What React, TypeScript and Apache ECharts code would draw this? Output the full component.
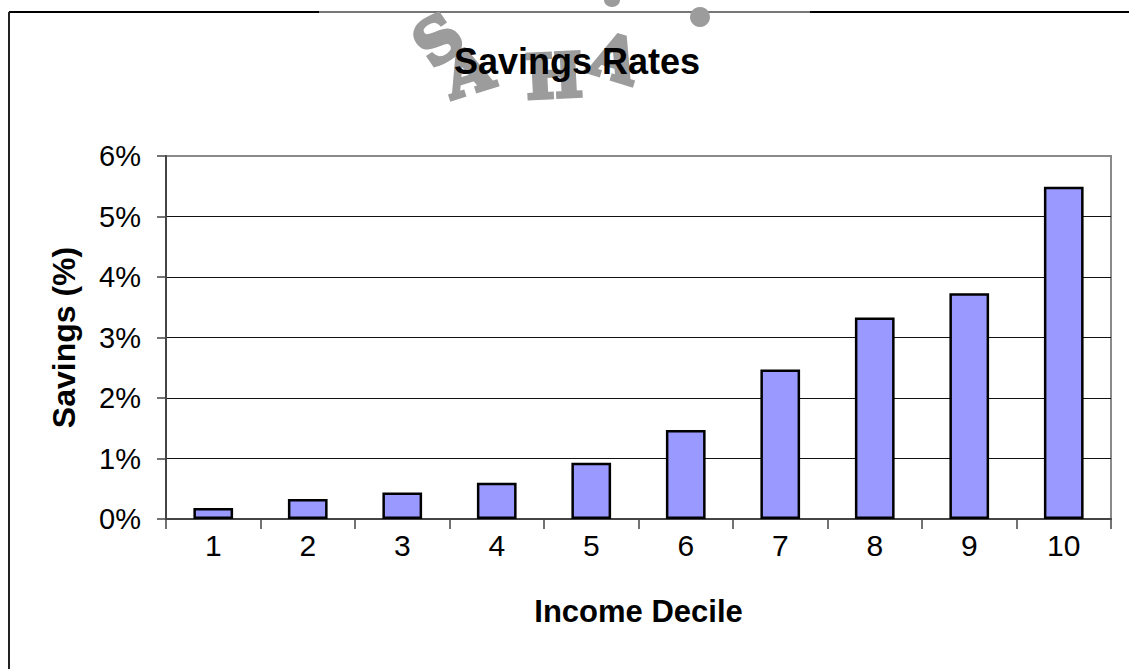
import { useEffect, useRef } from 'react';
import * as echarts from 'echarts';

const categories = ['1', '2', '3', '4', '5', '6', '7', '8', '9', '10'];
const savingsRates = [0.18, 0.33, 0.44, 0.6, 0.93, 1.47, 2.47, 3.33, 3.73, 5.49];
const yMin = 0;
const yMax = 6;
const yStep = 1;
const titleText = 'Savings Rates';
const xName = 'Income Decile';
const yName = 'Savings (%)';
const watermarkLetters = ['S', 'A', 'H', 'A'];

const FONT = 'Arial, "Liberation Sans", sans-serif';

export default function App() {
  const ref = useRef<HTMLDivElement>(null);
  useEffect(() => {
    const chart = echarts.init(ref.current!, null, { renderer: 'svg' });
    const wmPos = [
      { x: 438, y: 40, r: 0.6 },
      { x: 468, y: 72, r: 0.3 },
      { x: 554, y: 76, r: 0.05 },
      { x: 615, y: 58, r: -0.3 },
    ];
    chart.setOption({
      animation: false,
      backgroundColor: '#fff',
      title: {
        text: titleText,
        left: 572,
        top: 38,
        textAlign: 'center',
        z: 10,
        textStyle: { fontFamily: FONT, fontSize: 36, fontWeight: 'bold', color: '#000' },
      },
      grid: {
        left: 166,
        right: 18,
        top: 156,
        bottom: 150,
        show: true,
        borderColor: '#8a8a8a',
        borderWidth: 2,
        backgroundColor: 'transparent',
        containLabel: false,
        outerBoundsMode: 'none',
      },
      xAxis: {
        type: 'category',
        data: categories,
        boundaryGap: true,
        name: xName,
        nameLocation: 'middle',
        nameGap: 77,
        nameTextStyle: { fontFamily: FONT, fontSize: 31, fontWeight: 'bold', color: '#000' },
        axisLine: { show: true, lineStyle: { color: '#444', width: 2 } },
        axisTick: { show: true, length: 10, lineStyle: { color: '#444', width: 1.5 } },
        axisLabel: { fontFamily: FONT, fontSize: 30, color: '#000', margin: 11 },
        splitLine: { show: false },
      },
      yAxis: {
        type: 'value',
        min: yMin,
        max: yMax,
        interval: yStep,
        name: yName,
        nameLocation: 'middle',
        nameGap: 86,
        nameTextStyle: { fontFamily: FONT, fontSize: 32, fontWeight: 'bold', color: '#000' },
        axisLine: { show: true, lineStyle: { color: '#444', width: 2 } },
        axisTick: { show: true, length: 9, lineStyle: { color: '#444', width: 1.5 } },
        axisLabel: { fontFamily: FONT, fontSize: 29, color: '#000', margin: 25, formatter: '{value}%' },
        splitLine: {
          show: true,
          lineStyle: { color: ['#444', '#111', '#111', '#111', '#111', '#111', '#8a8a8a'], width: 1 },
        },
      },
      series: [
        {
          type: 'bar',
          data: savingsRates,
          barWidth: '42%',
          itemStyle: { color: '#9999FF', borderColor: '#000', borderWidth: 2.5 },
        },
      ],
      graphic: [
        { type: 'line', z: 1, shape: { x1: 9, y1: 12, x2: 1129, y2: 12 }, style: { stroke: '#000', lineWidth: 2 } },
        { type: 'line', z: 2, shape: { x1: 319, y1: 12, x2: 810, y2: 12 }, style: { stroke: '#777', lineWidth: 2 } },
        { type: 'line', z: 1, shape: { x1: 9, y1: 12, x2: 9, y2: 669 }, style: { stroke: '#222', lineWidth: 2 } },
        ...watermarkLetters.map((ch, i) => ({
          type: 'text',
          z: 3,
          x: wmPos[i].x,
          y: wmPos[i].y,
          rotation: wmPos[i].r,
          style: {
            text: ch,
            fill: '#9c9c9c',
            stroke: '#9c9c9c',
            lineWidth: 4,
            font: 'bold 60px "DejaVu Serif", serif',
            textAlign: 'center',
            textVerticalAlign: 'middle',
          },
        })),
        { type: 'circle', z: 3, shape: { cx: 700, cy: 17, r: 10 }, style: { fill: '#9c9c9c' } },
        { type: 'ellipse', z: 3, shape: { cx: 612, cy: 0, rx: 8, ry: 7 }, style: { fill: '#9c9c9c' } },
      ],
    });
    return () => chart.dispose();
  }, []);
  return <div ref={ref} style={{ position: 'fixed', left: 0, top: 0, width: 1129, height: 669 }} />;
}
